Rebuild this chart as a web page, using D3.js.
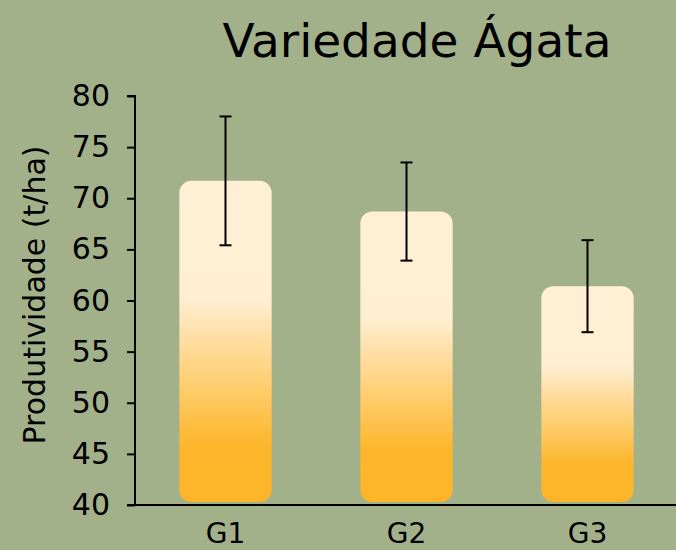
<!DOCTYPE html>
<html><head><meta charset="utf-8">
<script src="https://cdn.jsdelivr.net/npm/d3@7"></script>
<style>html,body{margin:0;padding:0;background:#A3B18A;}svg{display:block;}</style>
</head><body>
<script>
const categories = ["G1", "G2", "G3"];
const means = [71.7, 68.7, 61.4];
const errors = [6.3, 4.8, 4.5];
const yTicks = [40, 45, 50, 55, 60, 65, 70, 75, 80];
const title = "Variedade Ágata";
const yLabel = "Produtividade (t/ha)";

const W = 676, H = 550;
const font = "'DejaVu Sans', sans-serif";
const svg = d3.select("body").append("svg").attr("width", W).attr("height", H);
svg.append("rect").attr("width", W).attr("height", H).attr("fill", "#A3B18A");

const y = d3.scaleLinear().domain([40, 80]).range([505, 96]);
const x = d3.scaleBand().domain(categories).range([135, 678]).paddingInner(0.49).paddingOuter(0.245);

const defs = svg.append("defs");
const g = defs.append("linearGradient").attr("id", "barGrad").attr("x1", 0).attr("y1", 0).attr("x2", 0).attr("y2", 1);
[[0, "#FFF0D5"], [0.37, "#FFEED2"], [0.5, "#FFDDA0"], [0.65, "#FECC6A"], [0.82, "#FDB62C"], [1, "#FDB428"]]
  .forEach(([o, c]) => g.append("stop").attr("offset", o).attr("stop-color", c));

svg.selectAll("rect.bar").data(categories).enter().append("rect")
  .attr("class", "bar")
  .attr("x", d => x(d))
  .attr("width", x.bandwidth())
  .attr("y", (d, i) => y(means[i]))
  .attr("height", (d, i) => y(40) - 3 - y(means[i]))
  .attr("rx", 12).attr("ry", 12)
  .attr("fill", "url(#barGrad)");

// error bars
const eb = svg.append("g").attr("stroke", "#000").attr("stroke-width", 2);
categories.forEach((c, i) => {
  const cx = x(c) + x.bandwidth() / 2;
  const top = y(means[i] + errors[i]), bot = y(means[i] - errors[i]);
  eb.append("line").attr("x1", cx).attr("x2", cx).attr("y1", top).attr("y2", bot);
  eb.append("line").attr("x1", cx - 6).attr("x2", cx + 6).attr("y1", top).attr("y2", top);
  eb.append("line").attr("x1", cx - 6).attr("x2", cx + 6).attr("y1", bot).attr("y2", bot);
});

// y axis
const yAxis = svg.append("g").attr("transform", "translate(135,0)")
  .call(d3.axisLeft(y).tickValues(yTicks).tickSize(8).tickPadding(17));
yAxis.select(".domain").attr("stroke", "#000").attr("stroke-width", 2).attr("d", "M-8,96H0V505");
yAxis.selectAll(".tick line").attr("stroke", "#000").attr("stroke-width", 2);
yAxis.selectAll(".tick text").attr("font-family", font).attr("font-size", 30).attr("fill", "#000");

// x axis
const xAxis = svg.append("g").attr("transform", "translate(0,505)")
  .call(d3.axisBottom(x).tickSize(0).tickPadding(18));
xAxis.select(".domain").attr("stroke", "#000").attr("stroke-width", 2).attr("d", "M127,0H676");
xAxis.selectAll(".tick text").attr("font-family", font).attr("font-size", 28).attr("fill", "#000");

svg.append("text").attr("x", 417).attr("y", 57).attr("text-anchor", "middle")
  .attr("font-family", font).attr("font-size", 47).attr("fill", "#000").text(title);

svg.append("text").attr("transform", "translate(45,295) rotate(-90)").attr("text-anchor", "middle")
  .attr("font-family", font).attr("font-size", 30).attr("fill", "#000").text(yLabel);
</script>
</body></html>
